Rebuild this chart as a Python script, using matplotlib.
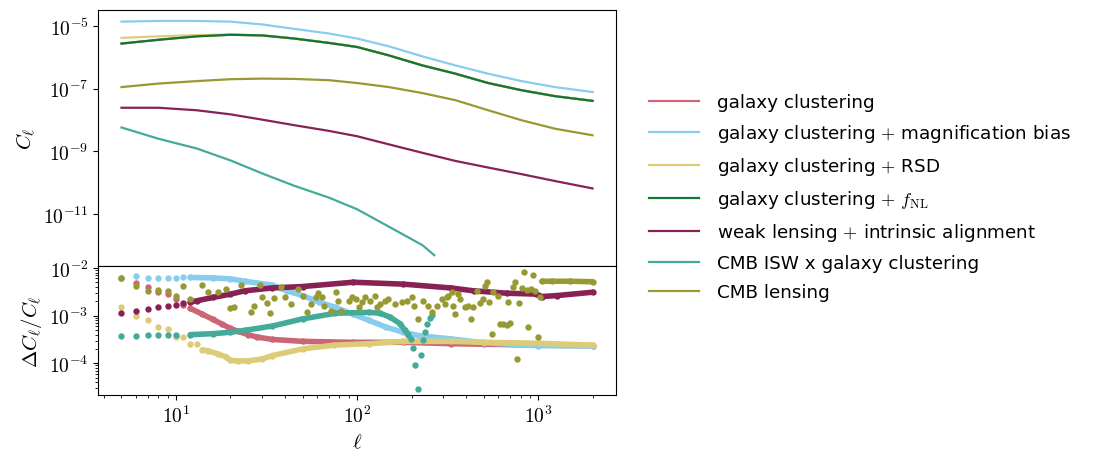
import numpy as np
import matplotlib
matplotlib.use("Agg")
import matplotlib.pyplot as plt
from matplotlib import ticker

plt.rcParams['mathtext.fontset'] = 'cm'
plt.rcParams['font.family'] = ['DejaVu Sans']

# colours (Tol muted)
c_gc = '#CC6677'
c_mag = '#88CCEE'
c_rsd = '#DDCC77'
c_fnl = '#117733'
c_wl = '#882255'
c_isw = '#44AA99'
c_cmbl = '#999933'

labels = ['galaxy clustering',
          'galaxy clustering $+$ magnification bias',
          'galaxy clustering $+$ RSD',
          r'galaxy clustering $+$ $f_{\rm NL}$',
          'weak lensing $+$ intrinsic alignment',
          'CMB ISW x galaxy clustering',
          'CMB lensing']

# ---- top panel: C_ell ----
ell_top = [5, 8, 13, 20, 30, 45, 70, 100, 150, 230, 350, 530, 810, 1240, 2000]
cl_mag = [1.38e-5, 1.45e-5, 1.45e-5, 1.38e-5, 1.12e-5, 8.1e-6, 5.75e-6, 3.98e-6,
          2.24e-6, 1.07e-6, 5.5e-7, 3.0e-7, 1.74e-7, 1.12e-7, 7.8e-8]
cl_fnl = [2.75e-6, 3.63e-6, 4.68e-6, 5.25e-6, 5.0e-6, 3.98e-6, 2.88e-6, 2.14e-6,
          1.15e-6, 5.5e-7, 3.0e-7, 1.51e-7, 8.9e-8, 5.75e-8, 4.07e-8]
cl_gc = cl_fnl  # hidden below the f_NL curve
cl_rsd = [4.17e-6, 4.68e-6, 5.13e-6, 5.37e-6, 5.0e-6, 3.98e-6, 2.88e-6, 2.14e-6,
          1.15e-6, 5.5e-7, 3.0e-7, 1.51e-7, 8.9e-8, 5.75e-8, 4.07e-8]
cl_cmbl = [1.12e-7, 1.45e-7, 1.74e-7, 2.0e-7, 2.09e-7, 2.04e-7, 1.86e-7, 1.51e-7,
           1.12e-7, 7.2e-8, 4.27e-8, 2.04e-8, 9.8e-9, 5.25e-9, 3.24e-9]
cl_wl = [2.45e-8, 2.45e-8, 2.04e-8, 1.51e-8, 1.02e-8, 6.8e-9, 4.47e-9, 3.02e-9,
         1.66e-9, 8.9e-10, 4.9e-10, 3.02e-10, 1.86e-10, 1.12e-10, 6.5e-11]
ell_isw_top = [5, 8, 13, 20, 30, 45, 70, 100, 150, 230, 267]
cl_isw = [5.75e-9, 2.51e-9, 1.23e-9, 5.1e-10, 1.95e-10, 7.9e-11, 3.3e-11, 1.41e-11,
          3.9e-12, 1.0e-12, 4.8e-13]

# ---- bottom panel: relative errors ----
ell_gc = [5, 6, 7, 8, 9, 10, 11, 12, 14, 16, 18, 20, 22, 25, 28, 34, 50, 95, 180,
          330, 500, 1000, 2000]
err_gc = [6.0e-3, 4.79e-3, 3.89e-3, 3.09e-3, 2.82e-3, 2.24e-3, 1.66e-3, 1.41e-3,
          1.07e-3, 8.3e-4, 6.6e-4, 5.37e-4, 4.68e-4, 3.98e-4, 3.55e-4, 3.16e-4,
          2.88e-4, 2.75e-4, 2.75e-4, 2.57e-4, 2.51e-4, 2.40e-4, 2.34e-4]

ell_mag = [5, 6, 7, 8, 9, 10, 11, 12, 16, 20, 24, 34, 41, 50, 62, 76, 95, 117,
           144, 180, 220, 330, 500, 1000, 2000]
err_mag = [6.1e-3, 6.61e-3, 6.03e-3, 6.17e-3, 6.17e-3, 6.17e-3, 6.31e-3, 6.31e-3,
           6.17e-3, 5.89e-3, 5.25e-3, 4.37e-3, 3.31e-3, 2.63e-3, 1.91e-3, 1.48e-3,
           1.07e-3, 7.9e-4, 5.75e-4, 4.47e-4, 3.80e-4, 3.24e-4, 2.69e-4, 2.34e-4,
           2.29e-4]

ell_rsd = [5, 6, 7, 8, 9, 10, 11, 12, 13, 14, 15, 17, 19, 20, 22, 25, 30, 34, 50,
           75, 117, 180, 330, 500, 1000, 2000]
err_rsd = [1.48e-3, 9.8e-4, 8.1e-4, 5.75e-4, 5.13e-4, 3.55e-4, 3.47e-4, 2.57e-4,
           2.51e-4, 1.91e-4, 1.82e-4, 1.58e-4, 1.35e-4, 1.15e-4, 1.12e-4, 1.12e-4,
           1.23e-4, 1.45e-4, 2.0e-4, 2.40e-4, 2.57e-4, 2.88e-4, 2.88e-4, 2.75e-4,
           2.63e-4, 2.40e-4]

ell_wl = [5, 6, 7, 8, 9, 10, 11, 12, 13, 16, 20, 24, 34, 50, 95, 180, 330, 440,
          670, 980, 1050, 1270, 2000]
err_wl = [1.15e-3, 1.26e-3, 1.35e-3, 1.48e-3, 1.58e-3, 1.70e-3, 1.82e-3, 1.91e-3,
          2.04e-3, 2.40e-3, 2.82e-3, 3.31e-3, 3.80e-3, 4.07e-3, 5.01e-3, 4.57e-3,
          3.80e-3, 3.31e-3, 2.95e-3, 2.82e-3, 2.51e-3, 2.63e-3, 3.09e-3]

ell_isw = [5, 6, 7, 8, 9, 10, 12, 16, 20, 24, 34, 50, 76, 117, 134, 152, 173,
           184, 192, 199, 205, 210, 217, 225, 231, 236, 245, 253, 260]
err_isw = [3.72e-4, 3.80e-4, 3.89e-4, 3.89e-4, 3.89e-4, 3.89e-4, 3.98e-4, 4.17e-4,
           4.47e-4, 4.90e-4, 6.03e-4, 8.51e-4, 1.12e-3, 1.17e-3, 1.12e-3, 9.3e-4,
           6.76e-4, 4.90e-4, 3.98e-4, 3.16e-4, 2.09e-4, 9.3e-5, 2.82e-5, 1.51e-4,
           3.02e-4, 4.47e-4, 6.76e-4, 8.71e-4, 1.05e-3]

ell_cmbl = [5, 6, 7, 8, 9, 10, 11, 12, 14, 15, 17, 19, 20, 21, 23, 26, 27, 29, 30,
            32, 33, 35, 38, 40, 43, 47, 50, 53, 56, 59, 61, 64, 66, 72, 77, 79, 82,
            90, 94, 99, 102, 106, 111, 118, 126, 129, 134, 143, 149, 162, 177, 188,
            200, 207, 218, 232, 248, 259, 275, 294, 306, 313, 320, 334, 341, 348,
            363, 371, 395, 412, 425, 439, 458, 478, 495, 509, 525, 538, 555, 566,
            604, 617, 643, 671, 685, 700, 724, 746, 762, 789, 812, 837, 866, 885,
            910, 942, 962, 996, 1026, 1050, 1200, 1500, 2000]
err_cmbl = [6.03e-3, 4.17e-3, 3.31e-3, 3.47e-3, 3.31e-3, 2.57e-3, 4.17e-3, 2.24e-3,
            4.37e-3, 3.09e-3, 3.09e-3, 3.55e-3, 1.41e-3, 1.55e-3, 4.47e-3, 1.17e-3,
            1.62e-3, 4.47e-3, 2.40e-3, 1.82e-3, 1.12e-3, 2.34e-3, 3.89e-3, 2.40e-3,
            1.74e-3, 3.63e-3, 2.63e-3, 1.17e-3, 1.74e-3, 2.40e-3, 2.95e-3, 2.40e-3,
            1.62e-3, 1.26e-3, 3.09e-3, 2.04e-3, 1.26e-3, 2.04e-3, 2.40e-3, 2.24e-3,
            1.48e-3, 1.91e-3, 2.40e-3, 2.04e-3, 2.63e-3, 1.48e-3, 1.74e-3, 2.04e-3,
            2.24e-3, 1.74e-3, 1.91e-3, 2.04e-3, 2.40e-3, 1.62e-3, 8.51e-4, 2.04e-3,
            1.62e-3, 1.17e-3, 1.62e-3, 2.24e-3, 1.74e-3, 2.40e-3, 2.63e-3, 3.09e-3,
            1.62e-3, 1.07e-3, 2.82e-3, 2.24e-3, 1.48e-3, 1.62e-3, 8.51e-4, 1.55e-3,
            3.31e-3, 1.82e-3, 2.24e-3, 4.27e-3, 5.01e-3, 1.91e-3, 4.17e-4, 3.09e-3,
            2.63e-3, 6.76e-4, 6.76e-4, 6.46e-4, 1.91e-3, 6.92e-4, 4.07e-3, 5.01e-3,
            1.23e-4, 1.82e-3, 3.80e-3, 8.13e-3, 3.47e-3, 5.75e-4, 3.63e-3, 7.24e-3,
            3.31e-3, 3.55e-4, 2.51e-3, 5.25e-3, 5.25e-3, 5.25e-3, 5.13e-3]

fig = plt.figure(figsize=(10.95, 4.64), dpi=100)
ax1 = fig.add_axes([0.0898, 0.4235, 0.4725, 0.5534])
ax2 = fig.add_axes([0.0898, 0.1472, 0.4725, 0.2763], sharex=ax1)

lw = 1.6
ax1.plot(ell_top, cl_gc, color=c_gc, lw=lw, label=labels[0])
ax1.plot(ell_top, cl_mag, color=c_mag, lw=lw, label=labels[1])
ax1.plot(ell_top, cl_rsd, color=c_rsd, lw=lw, label=labels[2])
ax1.plot(ell_top, cl_fnl, color=c_fnl, lw=lw, label=labels[3])
ax1.plot(ell_top, cl_wl, color=c_wl, lw=lw, label=labels[4])
ax1.plot(ell_isw_top, cl_isw, color=c_isw, lw=lw, label=labels[5])
ax1.plot(ell_top, cl_cmbl, color=c_cmbl, lw=lw, label=labels[6])

ms = 4.6


def dots(ax, ell, err, color, band_from, band_to=1e9):
    # separate dots at low ell, a thick band where points pile up
    ell = np.asarray(ell)
    err = np.asarray(err)
    ax.plot(ell, err, 'o', ms=ms, mew=0, color=color)
    m = (ell >= band_from) & (ell <= band_to)
    ax.plot(ell[m], err[m], '-', lw=4.0, color=color, solid_capstyle='round')


dots(ax2, ell_gc, err_gc, c_gc, 12)
dots(ax2, ell_mag, err_mag, c_mag, 12)
dots(ax2, ell_rsd, err_rsd, c_rsd, 14)
dots(ax2, ell_wl, err_wl, c_wl, 12)
dots(ax2, ell_isw, err_isw, c_isw, 12, 192)
dots(ax2, ell_cmbl, err_cmbl, c_cmbl, 1050)

fmt = ticker.FuncFormatter(lambda v, p: r'$10^{%d}$' % int(round(np.log10(v))))

for ax in (ax1, ax2):
    ax.set_xscale('log')
    ax.set_yscale('log')
    ax.tick_params(labelsize=14)
    ax.xaxis.set_major_formatter(fmt)
    ax.yaxis.set_major_formatter(fmt)

ax1.set_xlim(10 ** 0.571, 10 ** 3.429)
ax1.set_ylim(10 ** -12.68, 10 ** -4.48)
ax1.set_yticks([1e-11, 1e-9, 1e-7, 1e-5])
ax1.yaxis.set_major_formatter(fmt)
ax1.yaxis.set_minor_locator(ticker.NullLocator())
ax1.tick_params(labelbottom=False)
ax2.set_ylim(10 ** -4.66, 10 ** -1.97)
ax2.set_yticks([1e-4, 1e-3, 1e-2])
ax2.yaxis.set_major_formatter(fmt)
ax2.set_xticks([10, 100, 1000])
ax2.xaxis.set_major_formatter(fmt)

ax1.set_ylabel(r'$C_\ell$', fontsize=15)
ax2.set_ylabel(r'$\Delta C_\ell / C_\ell$', fontsize=15)
ax2.set_xlabel(r'$\ell$', fontsize=15)
fig.align_ylabels([ax1, ax2])

handles, labs = ax1.get_legend_handles_labels()
fig.legend(handles, labs, loc='upper left', bbox_to_anchor=(0.5927, 0.797),
           frameon=False, fontsize=13.2, handlelength=2.7, handletextpad=1.0,
           labelspacing=0.6, borderpad=0, borderaxespad=0)

fig.savefig('out.png', dpi=100)
